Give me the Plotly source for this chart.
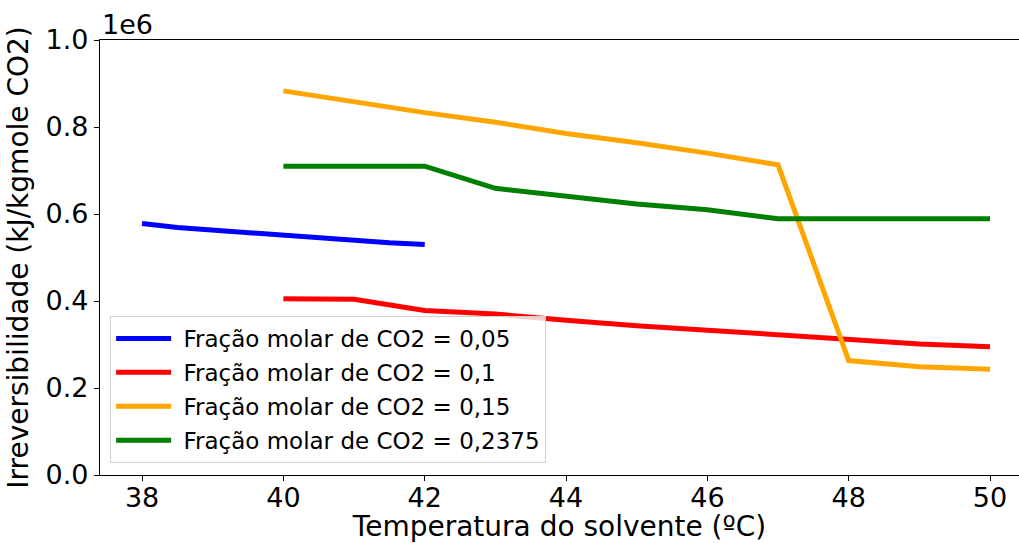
import plotly.graph_objects as go

# Irreversibility vs. solvent temperature for four CO2 mole fractions
temp_005 = [38, 38.5, 41.5, 42]
irr_005 = [578000, 569000, 534000, 530000]

temp_rest = [40, 41, 42, 43, 44, 45, 46, 47, 48, 49, 50]
irr_010 = [405000, 404000, 378000, 370000, 356000, 343000, 333000, 322000, 312000, 301000, 295000]
irr_015 = [883000, 857000, 833000, 811000, 785000, 764000, 740000, 713000, 263000, 249000, 243000]
irr_02375 = [710000, 710000, 710000, 659000, 641000, 623000, 610000, 589000, 589000, 589000, 589000]

series = [
    ("Fração molar de CO2 = 0,05", temp_005, irr_005, "#0000ff"),
    ("Fração molar de CO2 = 0,1", temp_rest, irr_010, "#ff0000"),
    ("Fração molar de CO2 = 0,15", temp_rest, irr_015, "#ffa500"),
    ("Fração molar de CO2 = 0,2375", temp_rest, irr_02375, "#008000"),
]

x_ticks = [38, 40, 42, 44, 46, 48, 50]
y_ticks = [0, 200000, 400000, 600000, 800000, 1000000]
y_tick_text = ["0.0", "0.2", "0.4", "0.6", "0.8", "1.0"]

FONT = "DejaVu Sans"

fig = go.Figure()
for i, (name, xs, ys, color) in enumerate(series):
    fig.add_trace(go.Scatter(
        x=xs, y=ys, mode="lines",
        name="\u00a0" + name,  # small gap between legend swatch and label
        line=dict(color=color, width=5),
        legendgroup=f"g{i}",
    ))

fig.update_layout(
    width=1019, height=543,
    margin=dict(l=100, r=0, t=40, b=68),
    paper_bgcolor="white", plot_bgcolor="white",
    font=dict(family=FONT, color="black", size=28),
    showlegend=True,
    legend=dict(
        x=0.011, y=0.3655, xanchor="left", yanchor="top",
        font=dict(family=FONT, size=23, color="black"),
        bgcolor="rgba(255,255,255,0.8)",
        bordercolor="#d0d0d0", borderwidth=1,
        tracegroupgap=1,
        itemwidth=55,
    ),
    xaxis=dict(
        range=[37.405, 50.41],
        tickvals=x_ticks,
        ticks="outside", ticklen=5, tickwidth=1, tickcolor="black",
        ticklabelstandoff=-7,
        showline=True, linecolor="black", linewidth=1.2, mirror=True,
        showgrid=False, zeroline=False,
        tickfont=dict(family=FONT, size=27, color="black"),
        title=dict(text="Temperatura do solvente (ºC)",
                   font=dict(family=FONT, size=28, color="black"), standoff=6),
    ),
    yaxis=dict(
        range=[0, 1000000],
        tickvals=y_ticks, ticktext=y_tick_text,
        ticks="outside", ticklen=5, tickwidth=1, tickcolor="black",
        showline=True, linecolor="black", linewidth=1.2,
        showgrid=False, zeroline=False,
        tickfont=dict(family=FONT, size=27, color="black"),
        title=dict(text="Irreversibilidade (kJ/kgmole CO2)",
                   font=dict(family=FONT, size=28, color="black"), standoff=8),
    ),
)

# Scale factor shown above the y axis
fig.add_annotation(
    text="1e6", xref="paper", yref="paper", x=0, y=1,
    xanchor="left", yanchor="bottom", yshift=-2, showarrow=False,
    font=dict(family=FONT, size=27, color="black"),
)

fig.write_html("out.html")
